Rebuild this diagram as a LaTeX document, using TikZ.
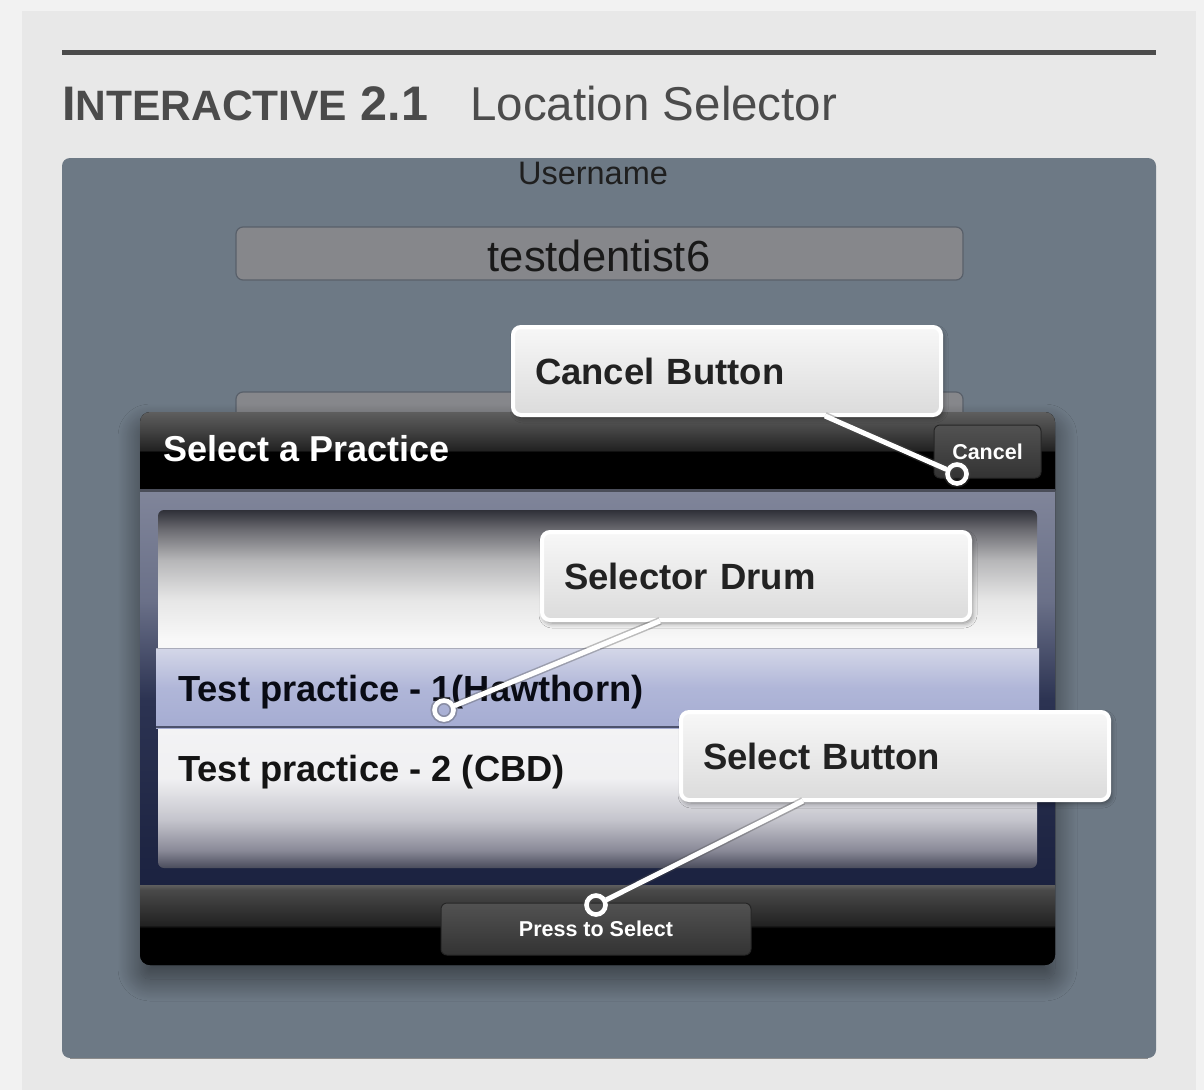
\documentclass[tikz,border=0pt]{standalone}
\usepackage{fontspec}
\setmainfont{Liberation Sans}
\usetikzlibrary{shadows.blur}

% palette
\definecolor{paper}{HTML}{F2F2F2}
\definecolor{sheet}{HTML}{E8E8E8}
\definecolor{ink}{HTML}{4B4B4B}
\definecolor{slate}{HTML}{6D7985}
\definecolor{fieldfill}{HTML}{86878B}
\definecolor{fieldline}{HTML}{59606A}
\definecolor{notetext}{HTML}{222222}
% drum gradient stops
\definecolor{drumI}{HTML}{2F3038}
\definecolor{drumH}{HTML}{6C6C72}
\definecolor{drumG}{HTML}{B6B6B8}
\definecolor{drumF}{HTML}{E6E6E6}
\definecolor{drumA}{HTML}{F8F8F8}
\definecolor{drumB}{HTML}{F0F0F2}
\definecolor{drumC}{HTML}{C4C4CC}
\definecolor{drumD}{HTML}{8A8A98}
\definecolor{drumE}{HTML}{4A4C5C}
% bars
\definecolor{barTop}{HTML}{5E5E5E}
\definecolor{barMid}{HTML}{444444}
\definecolor{barLow}{HTML}{222222}
\definecolor{frameTop}{HTML}{80859A}
\definecolor{frameMid}{HTML}{6A7088}
\definecolor{frameLow}{HTML}{2C3352}
\definecolor{frameEnd}{HTML}{1B2240}
\definecolor{selTop}{HTML}{D4D7E8}
\definecolor{selMid}{HTML}{B0B6D8}
\definecolor{selEnd}{HTML}{A5ACD2}

\pgfdeclareverticalshading{drumshade}{100bp}{%
  color(0bp)=(drumE); color(25bp)=(drumE); color(27.5bp)=(drumD);
  color(31.7bp)=(drumC); color(37.5bp)=(drumB); color(57bp)=(drumA);
  color(62.5bp)=(drumF); color(68bp)=(drumG); color(72.2bp)=(drumH);
  color(75bp)=(drumI); color(100bp)=(drumI)}
\pgfdeclareverticalshading{headshade}{100bp}{%
  color(0bp)=(black); color(49.4bp)=(black); color(50.6bp)=(barLow);
  color(63.5bp)=(barMid); color(75bp)=(barTop); color(100bp)=(barTop)}
\pgfdeclareverticalshading{toolshade}{100bp}{%
  color(0bp)=(black); color(48.1bp)=(black); color(50bp)=(barLow);
  color(71.9bp)=(barMid!80!barTop); color(75bp)=(barTop); color(100bp)=(barTop)}
\pgfdeclareverticalshading{frameshade}{100bp}{%
  color(0bp)=(frameEnd); color(25bp)=(frameEnd); color(48.4bp)=(frameLow);
  color(61bp)=(frameMid); color(75bp)=(frameTop); color(100bp)=(frameTop)}
\pgfdeclareverticalshading{selshade}{100bp}{%
  color(0bp)=(selEnd); color(25bp)=(selEnd); color(50bp)=(selMid);
  color(75bp)=(selTop); color(100bp)=(selTop)}

\tikzset{
  callout/.style={rectangle, rounded corners=8pt, draw=white, line width=4pt,
    top color=white!97!black, bottom color=white!86!black,
    minimum width=428pt, minimum height=88pt, text width=384pt,
    inner xsep=22pt, inner ysep=0pt, align=left, text=notetext,
    text height=26pt, text depth=0pt,
    font=\fontsize{36.5}{40}\selectfont\bfseries,
    blur shadow={shadow xshift=2pt, shadow yshift=-3pt,
      shadow blur radius=5pt, shadow opacity=45}},
  tipring/.style={circle, minimum size=19pt, inner sep=0pt, outer sep=2pt},
  leaderhalo/.style={draw=black!70, draw opacity=0.35, line width=8pt},
  leaderline/.style={draw=white, line width=5pt},
  uibutton/.style={rounded corners=6pt, draw=black!85, line width=1pt,
    top color=black!68, bottom color=black!80},
  field/.style={rounded corners=7pt, fill=fieldfill, draw=fieldline,
    line width=1.2pt},
  btntext/.style={text=white, font=\fontsize{21.5}{24}\selectfont\bfseries,
    inner sep=0pt},
}

\begin{document}
\begin{tikzpicture}[x=1pt, y=-1pt]
  \useasboundingbox (0,0) rectangle (1204,1090);

  % page and sheet
  \fill[paper] (0,0) rectangle (1204,1090);
  \fill[sheet] (22,11) rectangle (1196,1090);

  % heading rule and caption
  \fill[ink] (62,50) rectangle (1156,55);
  \node[anchor=base west, inner sep=0pt, text=ink] (capnum) at (62,120)
    {\fontsize{48.5}{50}\selectfont\bfseries I\fontsize{42.5}{50}\selectfont NTERACTIVE\fontsize{48.5}{50}\selectfont{} 2.1};
  \node[anchor=base west, inner sep=0pt, text=ink,
    font=\fontsize{47.5}{50}\selectfont] (captitle) at (470,120) {Location Selector};

  % screen panel
  \fill[slate] (62,158) [rounded corners=8pt] rectangle (1156,1058);
  \draw[black!45, line width=1pt] (70,1058) -- (1148,1058);
  \node[anchor=base, inner sep=0pt, text=black!88,
    font=\fontsize{32.5}{36}\selectfont] (userlabel) at (593,184) {Username};
  \path[field] (236,227) rectangle (963,280);
  \node[anchor=base, inner sep=0pt, text=black!90,
    font=\fontsize{43.5}{48}\selectfont] (username) at (599,271) {testdentist6};
  \path[field] (236,392) rectangle (963,450);

  % picker popup
  \node[anchor=north west, rectangle, rounded corners=10pt, fill=black,
    minimum width=915pt, minimum height=553pt, inner sep=0pt, outer sep=0pt,
    blur shadow={shadow xshift=0pt, shadow yshift=-14pt,
      shadow blur radius=22pt, shadow blur steps=30, shadow opacity=50}] (popup) at (140,412) {};
  \begin{scope}
    \clip[rounded corners=10pt] (140,412) rectangle (1055,965);
    \shade[shading=headshade] (140,412) rectangle (1055,490);
    \shade[shading=frameshade] (140,490) rectangle (1055,885);
    \fill[black!42!frameTop] (140,489) rectangle (1055,492);
    \shade[shading=toolshade] (140,885) rectangle (1055,965);
  \end{scope}
  \node[anchor=base west, inner sep=0pt, text=white,
    font=\fontsize{36}{40}\selectfont\bfseries] (popuptitle) at (163,461)
    {Select a Practice};
  \path[uibutton] (934,425) rectangle (1041,478);
  \node[btntext, anchor=base] (cancelbtn) at (987.5,459) {Cancel};

  % selector drum
  \shade[shading=drumshade, rounded corners=6pt] (158,510) rectangle (1037,868);
  \shade[shading=selshade] (156,648) rectangle (1039,728);
  \draw[line width=1.5pt, selTop!80!black] (156,648.5) -- (1039,648.5);
  \draw[line width=2pt, frameLow!85!white] (156,727) -- (1039,727);
  \node[anchor=base west, inner sep=0pt, text=black!68!frameEnd,
    font=\fontsize{36.3}{40}\selectfont\bfseries] (rowone) at (178,701)
    {Test practice - 1(Hawthorn)};
  \node[anchor=base west, inner sep=0pt, text=black!92,
    font=\fontsize{36.3}{40}\selectfont\bfseries] (rowtwo) at (178,781)
    {Test practice - 2 (CBD)};

  % select button
  \path[uibutton] (441,903) rectangle (751,955);
  \node[btntext, anchor=base] (selectbtn) at (596,936) {Press to Select};

  % callouts
  \node[callout, anchor=north west] (cancelNote) at (511,325) {Cancel Button};
  \node[callout, anchor=north west] (drumNote) at (540,530) {Selector Drum};
  \node[callout, anchor=north west] (selectNote) at (679,710) {Select Button};

  % pointer rings (positions of the hollow markers)
  \node[tipring] (cancelTip) at (957,474) {};
  \node[tipring] (drumTip) at (444,710) {};
  \node[tipring] (selectTip) at (596,905) {};

  % leader lines from each callout to its ring
  \path (cancelNote.south west) ++(314,-1) coordinate (cancelFoot);
  \path (drumNote.south west) ++(120,-1) coordinate (drumFoot);
  \path (selectNote.south west) ++(124,-1) coordinate (selectFoot);
  \foreach \a/\b in {cancelFoot/cancelTip, drumFoot/drumTip, selectFoot/selectTip}{
    \draw[leaderhalo] (\a) -- (\b);
  }
  \foreach \t in {cancelTip, drumTip, selectTip}{
    \draw[draw=black!70, draw opacity=0.35, line width=8pt] (\t) circle (9.5pt);
  }
  \foreach \a/\b in {cancelFoot/cancelTip, drumFoot/drumTip, selectFoot/selectTip}{
    \draw[leaderline] (\a) -- (\b);
  }
  \foreach \t in {cancelTip, drumTip, selectTip}{
    \draw[white, line width=4.6pt] (\t) circle (9.5pt);
  }
\end{tikzpicture}
\end{document}
